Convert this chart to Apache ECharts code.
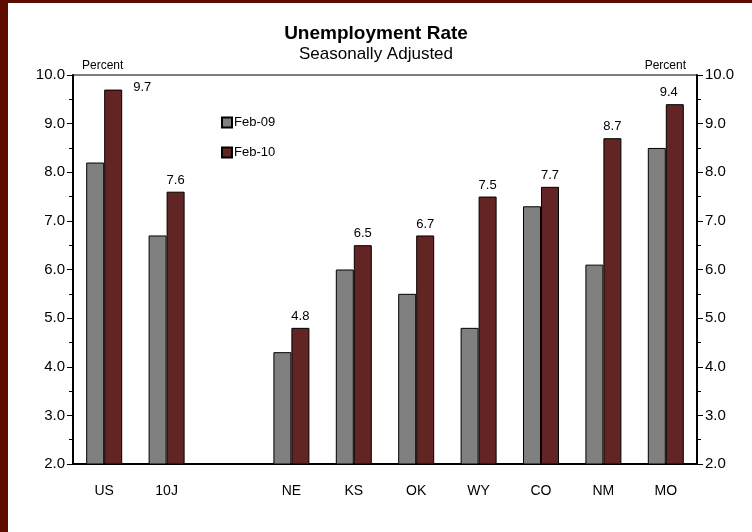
<!DOCTYPE html>
<html>
<head>
<meta charset="utf-8">
<script src="https://cdn.jsdelivr.net/npm/echarts@6/dist/echarts.min.js"></script>
<style>
  html, body { margin: 0; padding: 0; background: #fff; }
  #chart { width: 752px; height: 532px; }
</style>
</head>
<body>
<div id="chart"></div>
<script>
const categories = ['US', '10J', '', 'NE', 'KS', 'OK', 'WY', 'CO', 'NM', 'MO'];
const feb09 = [8.2, 6.7, null, 4.3, 6.0, 5.5, 4.8, 7.3, 6.1, 8.5];
const feb10 = [9.7, 7.6, null, 4.8, 6.5, 6.7, 7.5, 7.7, 8.7, 9.4];
const seriesNames = ['Feb-09', 'Feb-10'];

const font = 'Liberation Sans, Arial, sans-serif';

// label tweaks: US label sits to the right of its bar
const labelOffsets = {0: [29, 9], 9: [-6, 0]};

const chart = echarts.init(document.getElementById('chart'));

function yAxis(pos) {
  return {
    type: 'value',
    position: pos,
    min: 2,
    max: 10,
    interval: 1,
    name: 'Percent',
    nameLocation: 'end',
    nameGap: 3,
    nameTextStyle: {
      fontFamily: font, fontSize: 12, color: '#000',
      align: pos === 'left' ? 'left' : 'right',
      verticalAlign: 'bottom',
      padding: pos === 'left' ? [0, 0, 0, 9] : [0, 11, 0, 0]
    },
    axisLine: {show: true, lineStyle: {color: '#000', width: 2}},
    axisTick: {show: true, inside: false, length: 6, lineStyle: {color: '#000'}},
    minorTick: {show: true, splitNumber: 2, length: 4, lineStyle: {color: '#000'}},
    splitLine: {show: false},
    axisLabel: {
      fontFamily: font, fontSize: 15, color: '#000', margin: 8,
      formatter: (v) => v.toFixed(1)
    }
  };
}

chart.setOption({
  backgroundColor: '#fff',
  animation: false,
  title: {
    text: 'Unemployment Rate',
    subtext: 'Seasonally Adjusted',
    left: 'center',
    top: 19,
    itemGap: 3,
    textStyle: {fontFamily: font, fontSize: 19, fontWeight: 'bold', color: '#000'},
    subtextStyle: {fontFamily: font, fontSize: 17, color: '#000'}
  },
  legend: {
    data: seriesNames,
    orient: 'vertical',
    left: 216,
    top: 111,
    itemWidth: 10,
    itemHeight: 10,
    itemGap: 17,
    icon: 'rect',
    textStyle: {fontFamily: font, fontSize: 13, color: '#000', padding: [0, 0, 0, -3]}
  },
  grid: {
    left: 73, right: 55, top: 75, bottom: 68,
    show: true, borderColor: '#000', borderWidth: 1
  },
  xAxis: {
    type: 'category',
    data: categories,
    axisLine: {lineStyle: {color: '#000', width: 2}},
    axisTick: {show: false},
    axisLabel: {fontFamily: font, fontSize: 14, color: '#000', margin: 20}
  },
  yAxis: [yAxis('left'), yAxis('right')],
  series: [
    {
      name: seriesNames[0],
      type: 'bar',
      data: feb09,
      barWidth: 18,
      barGap: 0,
      itemStyle: {color: '#808080', borderColor: '#000', borderWidth: 1}
    },
    {
      name: seriesNames[1],
      type: 'bar',
      data: feb10.map((v, i) => labelOffsets[i]
        ? {value: v, label: {offset: labelOffsets[i]}}
        : v),
      barWidth: 18,
      barGap: 0,
      itemStyle: {color: '#632523', borderColor: '#000', borderWidth: 1},
      label: {
        show: true,
        position: 'top',
        distance: 5,
        fontFamily: font,
        fontSize: 13,
        color: '#000',
        formatter: (p) => p.value == null ? '' : p.value.toFixed(1)
      }
    }
  ],
  graphic: [
    {type: 'rect', left: 0, top: 0, shape: {width: 8, height: 532}, style: {fill: '#5e0b00'}},
    {type: 'rect', left: 0, top: 0, shape: {width: 752, height: 3}, style: {fill: '#5e0b00'}}
  ]
});
</script>
</body>
</html>
